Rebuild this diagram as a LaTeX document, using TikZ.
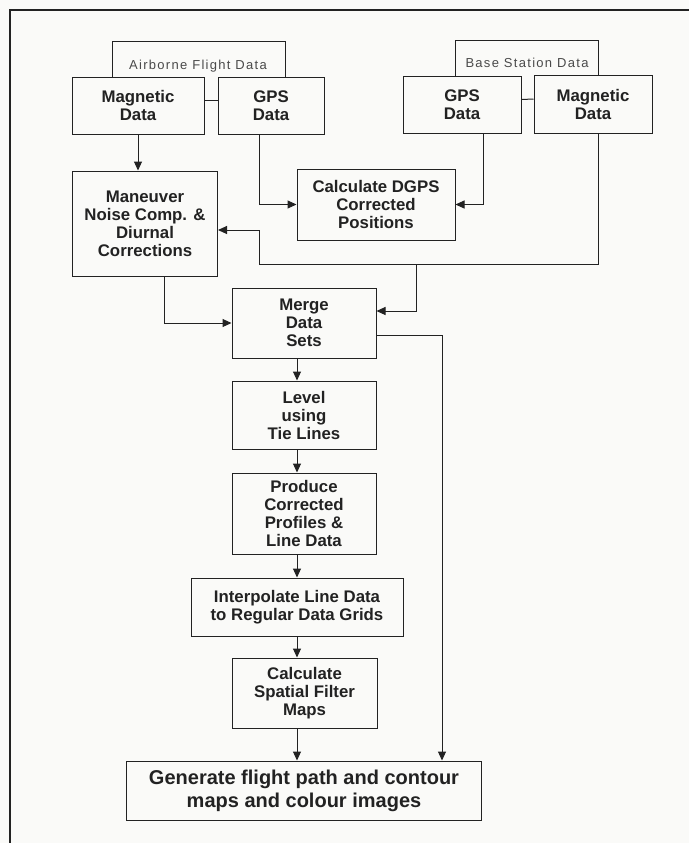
\documentclass[tikz,border=0pt]{standalone}
\usepackage{fontspec}
\setmainfont{Liberation Sans}
\newfontfamily\tagfont[LetterSpace=10]{Liberation Sans}
\usepackage{tikz}
\usetikzlibrary{arrows.meta, positioning, calc}
\definecolor{inkdark}{HTML}{222222}
\definecolor{taggray}{HTML}{4A4A4A}
\definecolor{paper}{HTML}{FAFAF8}

\begin{document}
\begin{tikzpicture}[x=1pt, y=-1pt,
    procbox/.style 2 args={rectangle, draw=inkdark, line width=1pt, minimum width=#1, minimum height=#2, inner sep=0pt, align=center, text=inkdark, font=\bfseries\fontsize{16.8}{18}\selectfont},
    tag/.style={inner sep=0pt, text=taggray, font=\tagfont\fontsize{13}{14}\selectfont},
    flow/.style={draw=inkdark, line width=1pt, -{Triangle[length=9pt, width=8pt]}},
    link/.style={draw=inkdark, line width=1pt}
]
\useasboundingbox[fill=paper] (0,0) rectangle (689,843);

% frame (only top and left edges show)
\draw[inkdark, line width=1.8pt] (10,843) -- (10,10) -- (689,10);

% data sources
\node[procbox={132pt}{57pt}] (magA) at (138,105.5) {Magnetic\\Data};
\node[procbox={106pt}{57pt}] (gpsA) at (271,105.5) {GPS\\Data};
\node[procbox={118pt}{57pt}] (gpsB) at (462,104.5) {GPS\\Data};
\node[procbox={118pt}{58pt}] (magB) at (593,104) {Magnetic\\Data};

\coordinate (airL) at (112,42);
\coordinate (airR) at (285,42);
\coordinate (baseL) at (455,41);
\coordinate (baseR) at (598,41);
\draw[link] (magA.north -| airL) -- (airL) -- (airR) -- (gpsA.north -| airR);
\draw[link] (gpsB.north -| baseL) -- (baseL) -- (baseR) -- (magB.north -| baseR);
\node[tag] (airlbl) at (198,66) {Airborne Flight Data};
\node[tag] (baselbl) at (527,63) {Base Station Data};
\draw[link] ([yshift=5pt]magA.east) -- ([yshift=5pt]gpsA.west);
\draw[link] ([yshift=5pt]gpsB.east) -- ([yshift=5pt]magB.west);

% corrections
\node[procbox={145pt}{105pt}] (mnv) at (145,223.5) {Maneuver\\Noise Comp. \&\\Diurnal\\Corrections};
\node[procbox={158pt}{71pt}] (dgps) at (376,204.5) {Calculate DGPS\\Corrected\\Positions};

% processing chain
\node[procbox={144pt}{70pt}] (merge) at (304,323) {Merge\\Data\\Sets};
\node[procbox={144pt}{68pt}] (level) at (304,415) {Level\\using\\Tie Lines};
\node[procbox={144pt}{81pt}] (produce) at (304,513.5) {Produce\\Corrected\\Profiles \&\\Line Data};
\node[procbox={212pt}{58pt}] (interp) at (297,607) {Interpolate Line Data\\to Regular Data Grids};
\node[procbox={145pt}{70pt}] (spatial) at (304.5,693) {Calculate\\Spatial Filter\\Maps};
\node[procbox={355pt}{59pt}, font=\bfseries\fontsize{20}{23}\selectfont] (gen) at (304,790.5) {Generate flight path and contour\\maps and colour images};

% connectors
\coordinate (bend) at (259,264);
\coordinate (split) at (416,264);
\draw[flow] (magA.south) -- (magA.south |- mnv.north);
\draw[flow] ([xshift=-12pt]gpsA.south) |- (dgps.west);
\draw[flow] ([xshift=21pt]gpsB.south) |- (dgps.east);
\draw[flow] ([xshift=5pt]magB.south) |- (bend) |- ([yshift=-6.5pt]mnv.east);
\draw[flow] (split) |- ([yshift=12pt]merge.east);
\draw[flow] ([xshift=19pt]mnv.south) |- (merge.west);
\draw[flow] ([yshift=-12pt]merge.east) -| ([xshift=138pt]gen.north);

\draw[flow] (merge.south -| interp.center) -- (level.north -| interp.center);
\draw[flow] (level.south -| interp.center) -- (produce.north -| interp.center);
\draw[flow] (produce.south -| interp.center) -- (interp.north);
\draw[flow] (interp.south) -- (spatial.north -| interp.center);
\draw[flow] (spatial.south -| interp.center) -- (gen.north -| interp.center);

\end{tikzpicture}
\end{document}
